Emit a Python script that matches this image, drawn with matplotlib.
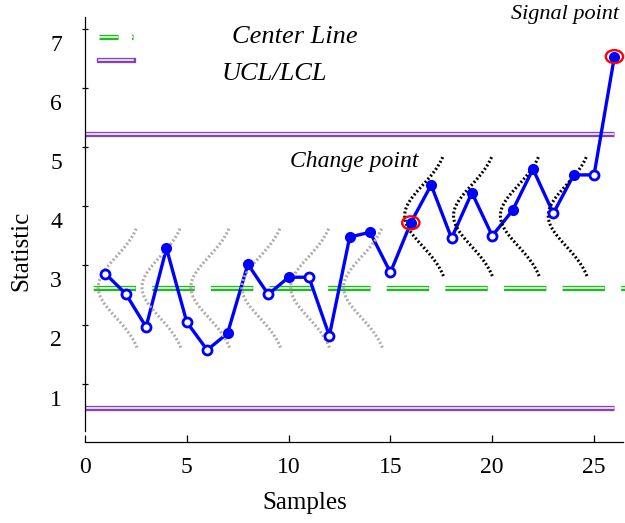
import numpy as np
import matplotlib
matplotlib.use('Agg')
import matplotlib.pyplot as plt
import matplotlib.patheffects as pe
from matplotlib.patches import Ellipse
from matplotlib.lines import Line2D
from matplotlib.transforms import ScaledTranslation

plt.rcParams['font.family'] = ['Liberation Serif', 'DejaVu Serif']
plt.rcParams['lines.scale_dashes'] = False

# data
samples = np.arange(1, 27)
stat = np.array([2.86, 2.52, 1.96, 3.29, 2.04, 1.57, 1.85, 3.02, 2.51, 2.80,
                 2.80, 1.81, 3.48, 3.56, 2.88, 3.72, 4.36, 3.46, 4.23, 3.50,
                 3.93, 4.63, 3.88, 4.53, 4.53, 6.53])
center_line = 2.61
ucl = 5.23
lcl = 0.59
change_idx = 15   # sample 16
signal_idx = 25   # sample 26

# sideways normal curves (in control / shifted process)
in_ctrl_base = [2.85, 5.0, 7.4, 9.9, 12.3, 14.9]
in_ctrl_mu = 2.63
shift_base = [17.9, 20.3, 22.6, 24.95]
shift_mu = 3.84
bell_sd = 0.51
bell_w = 2.2

green = '#22b822'
purple = '#8444b4'

fig = plt.figure(figsize=(6.25, 5.23), dpi=100)
ax = fig.add_axes([85 / 625, 92 / 523, 540 / 625, 414 / 523])

def double_line(color):
    return [pe.Stroke(linewidth=3.8, foreground=color), pe.Normal()]

# center line and control limits
ax.axhline(center_line, color='white', lw=1.1, ls=(36.3, (30.5, 11.7)),
           path_effects=double_line(green), zorder=2)
ax.hlines([ucl, lcl], 0, samples[-1], colors='white', lw=1.1,
          path_effects=double_line(purple), zorder=2)

# distributions
z = np.linspace(-2, 2, 120)
for b in in_ctrl_base:
    ax.plot(b - bell_w * np.exp(-z ** 2 / 2), in_ctrl_mu + z * bell_sd,
            color='#ababab', lw=2.2, ls=(0, (1.4, 1.6)), zorder=4)
for b in shift_base:
    ax.plot(b - bell_w * np.exp(-z ** 2 / 2), shift_mu + z * bell_sd,
            color='black', lw=2.2, ls=(0, (1.4, 1.6)), zorder=4)

# statistic
ax.plot(samples, stat, color='#0000ff', lw=2.4, zorder=3)
rising = np.r_[False, np.diff(stat) > 0]
ax.plot(samples[rising], stat[rising], 'o', ms=6.5, mfc='#0000ff', mec='#0000ff',
        mew=1.5, zorder=5)
ax.plot(samples[~rising], stat[~rising], 'o', ms=6.5, mfc='white', mec='#0000ff',
        mew=2.0, zorder=5)

for i in (change_idx, signal_idx):
    ax.add_patch(Ellipse((samples[i], stat[i]), 0.85, 0.22, fill=False,
                         ec='red', lw=1.7, zorder=6))

ax.text(13.21, 4.75, 'Change point', style='italic', fontsize=17,
        ha='center', va='center')
ax.text(23.57, 7.24, 'Signal point', style='italic', fontsize=16,
        ha='center', va='center')

# legend swatches
ax.add_line(Line2D([0.026, 0.089], [0.952, 0.952], transform=ax.transAxes,
                   color='white', lw=1.1, ls=(0, (13.7, 9.7)),
                   path_effects=double_line(green)))
ax.add_line(Line2D([0.026, 0.089], [0.897, 0.897], transform=ax.transAxes,
                   color='white', lw=1.1, path_effects=double_line(purple)))
ax.text(0.389, 0.952, 'Center Line', transform=ax.transAxes, style='italic',
        fontsize=19, ha='center', va='center')
ax.text(0.35, 0.862, 'UCL/LCL', transform=ax.transAxes, style='italic',
        fontsize=19, ha='center', va='center')

ax.set_xlim(0, 26.52)
ax.set_ylim(0.2, 7.2)
ax.set_xticks(range(0, 26, 5))
ax.set_yticks(range(1, 8))
ax.tick_params(axis='x', direction='in', length=5, width=0.9, labelsize=17, pad=11)
ax.tick_params(axis='y', direction='inout', length=5, width=0.9, labelsize=17, pad=14)

for lab in ax.get_yticklabels():
    lab.set_transform(lab.get_transform() +
                      ScaledTranslation(0, -10 / 72, fig.dpi_scale_trans))
lab5 = ax.get_xticklabels()[1]
lab5.set_transform(lab5.get_transform() +
                   ScaledTranslation(0, -5 / 72, fig.dpi_scale_trans))

for s in ('top', 'right'):
    ax.spines[s].set_visible(False)
ax.spines['left'].set_linewidth(0.9)
ax.spines['bottom'].set_linewidth(0.9)
ax.spines['bottom'].set_position(('outward', 8))
ax.spines['bottom'].set_bounds(0, 26.4)

ax.set_xlabel('Samples', fontsize=18, va='center')
ax.xaxis.set_label_coords(0.407, -0.174)
ax.set_ylabel('Statistic', fontsize=18, va='center')
ax.yaxis.set_label_coords(-0.117, 0.435)

fig.savefig('out.png', dpi=100)
